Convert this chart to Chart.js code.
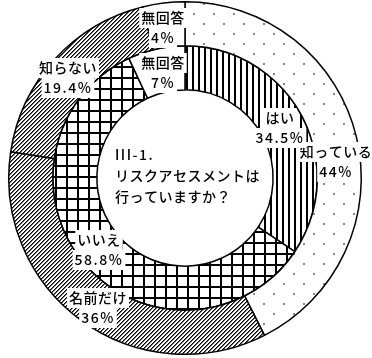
<!DOCTYPE html>
<html>
<head>
<meta charset="utf-8">
<script src="https://cdn.jsdelivr.net/npm/chart.js@4"></script>
<style>
html,body{margin:0;padding:0;background:#fff;}
#wrap{width:372px;height:358px;position:relative;}
</style>
</head>
<body>
<div id="wrap"><canvas id="c" width="372" height="358"></canvas></div>
<script>
// ---- data ----
const outerLabels = ['知っている', '名前だけ', '知らない', '無回答'];
const outerValues = [44, 36, 19.4, 4];
const innerLabels = ['はい', 'いいえ', '無回答'];
const innerValues = [34.5, 58.8, 7];
const titleLines = ['III-1.', 'リスクアセスメントは', '行っていますか？'];

// ---- patterns ----
function makePattern(w, h, draw) {
  const c = document.createElement('canvas');
  c.width = w; c.height = h;
  const g = c.getContext('2d');
  g.fillStyle = '#fff'; g.fillRect(0, 0, w, h);
  g.fillStyle = '#000';
  draw(g);
  return document.createElement('canvas').getContext('2d').createPattern(c, 'repeat');
}
const dots = makePattern(20, 20, g => { g.fillStyle = '#8a8a8a'; g.fillRect(3, 3, 2, 2); g.fillRect(13, 13, 2, 2); });
const diag = makePattern(4, 4, g => { for (let i = 0; i < 4; i++) { g.fillStyle = '#000'; g.fillRect(i, (3 - i) % 4, 1, 1); g.fillStyle = '#666'; g.fillRect(i, (4 - i) % 4, 1, 1); } });
const vert = makePattern(6, 1, g => { g.fillRect(0, 0, 2, 1); });
const grid = makePattern(11, 11, g => { g.fillRect(0, 0, 2, 11); g.fillRect(0, 0, 11, 2); });

// label layout (offsets from chart centre)
const outerLabelPos = [[151, -16], [-87, 130], [-117, -100], [-22, -150]];
const innerLabelPos = [[95, -50], [-86, 72], [-22, -105]];

const labelPlugin = {
  id: 'labels',
  afterDatasetsDraw(chart) {
    const ctx = chart.ctx;
    const meta0 = chart.getDatasetMeta(0).data[0];
    const cx = meta0.x, cy = meta0.y;
    ctx.save();
    ctx.font = '500 14px "Noto Sans CJK JP"';
    ctx.textBaseline = 'middle';
    ctx.textAlign = 'center';
    const drawLabel = (lines, x, y) => {
      const lh = 20;
      ctx.fillStyle = '#fff';
      lines.forEach((l, i) => {
        ctx.letterSpacing = i === 1 ? '1.5px' : '0.5px';
        const w = ctx.measureText(l).width;
        const yy = y + (i - (lines.length - 1) / 2) * lh;
        ctx.fillRect(x - w / 2 - 2, yy - 10, w + 4, 20);
      });
      ctx.fillStyle = '#000';
      lines.forEach((l, i) => {
        ctx.letterSpacing = i === 1 ? '1.5px' : '0.5px';
        const yy = y + (i - (lines.length - 1) / 2) * lh;
        ctx.fillText(l, x, yy);
      });
    };
    outerLabels.forEach((l, i) => drawLabel([l, outerValues[i] + '%'], cx + outerLabelPos[i][0], cy + outerLabelPos[i][1]));
    innerLabels.forEach((l, i) => drawLabel([l, innerValues[i] + '%'], cx + innerLabelPos[i][0], cy + innerLabelPos[i][1]));
    ctx.textAlign = 'left';
    titleLines.forEach((l, i) => {
      ctx.letterSpacing = i === 0 ? '1.5px' : '0.5px';
      ctx.fillText(l, cx - 70, cy - 23 + i * 21);
    });
    ctx.restore();
  }
};

new Chart(document.getElementById('c'), {
  type: 'doughnut',
  data: {
    labels: outerLabels,
    datasets: [
      { data: outerValues, backgroundColor: [dots, diag, diag, '#fff'], borderColor: '#000', borderWidth: 1.5 },
      { data: innerValues, backgroundColor: [vert, grid, '#fff'], borderColor: '#000', borderWidth: 1.5 }
    ]
  },
  options: {
    responsive: false,
    animation: false,
    cutout: '50%',
    layout: { padding: { top: 1, bottom: 3, left: 0, right: 2 } },
    plugins: { legend: { display: false }, tooltip: { enabled: false } }
  },
  plugins: [labelPlugin]
});
</script>
</body>
</html>
